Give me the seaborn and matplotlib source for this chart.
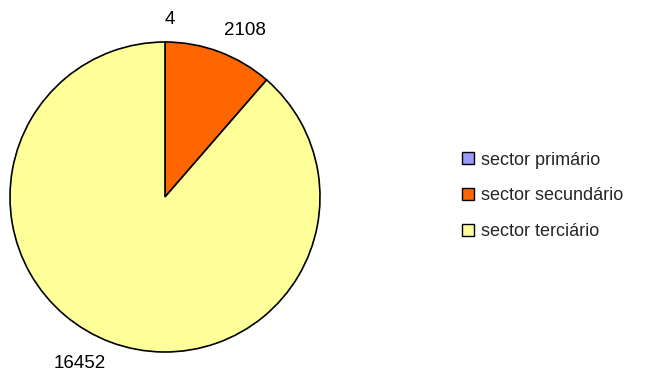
import matplotlib
matplotlib.use("Agg")
import matplotlib.pyplot as plt
import seaborn as sns
import numpy as np
from matplotlib.patches import Patch

sns.set_theme(style="white")
plt.rcParams["font.family"] = ["Liberation Sans", "DejaVu Sans"]

sectors = ["sector primário", "sector secundário", "sector terciário"]
values = [4, 2108, 16452]
colors = ["#9999FF", "#FF6600", "#FFFF99"]

fig = plt.figure(figsize=(6.59, 3.74), dpi=100)
ax = fig.add_axes([10 / 659, 22 / 374, 310 / 659, 310 / 374])

wedges, _ = ax.pie(
    values,
    colors=colors,
    startangle=90,
    counterclock=False,
    wedgeprops=dict(edgecolor="black", linewidth=1.2),
)

# value labels placed just outside each wedge, anchored by the corner nearest the pie
for w, v in zip(wedges, values):
    ang = np.deg2rad((w.theta1 + w.theta2) / 2)
    cx, cy = np.cos(ang), np.sin(ang)
    ax.text(
        1.09 * cx, 1.09 * cy, str(v),
        ha="left" if cx >= 0 else "right",
        va="bottom" if cy >= 0 else "top",
        fontsize=13.5, color="black",
    )

ax.set_xlim(-1, 1)
ax.set_ylim(-1, 1)
ax.set_aspect("equal")
ax.axis("off")

handles = [Patch(facecolor=c, edgecolor="black", linewidth=1.0) for c in colors]
fig.legend(
    handles, sectors,
    loc="center left", bbox_to_anchor=(446 / 659, (374 - 196) / 374),
    frameon=False, fontsize=13,
    handlelength=0.65, handleheight=0.65, handletextpad=0.4,
    labelspacing=1.05,
)

fig.savefig("out.png", dpi=100)
